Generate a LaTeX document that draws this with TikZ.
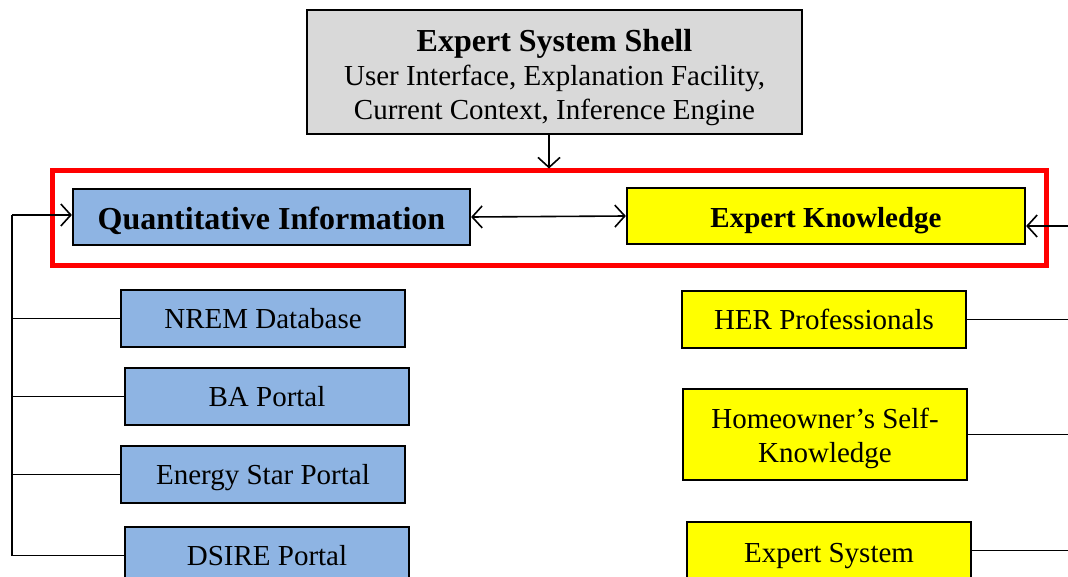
\documentclass[tikz,border=0pt]{standalone}
\usepackage{fontspec}
\setmainfont{Liberation Serif}
\usetikzlibrary{arrows.meta}
\definecolor{shellgray}{HTML}{D9D9D9}
\definecolor{quantblue}{HTML}{8EB4E3}
\definecolor{knowyellow}{HTML}{FFFF00}
\tikzset{
  box/.style={draw=black, line width=2.2pt, inner sep=0pt, align=center,
    font=\fontsize{29}{34}\selectfont},
  oneline/.style={text height=25pt, text depth=6pt},
  bluebox/.style={box, oneline, fill=quantblue, minimum width=284pt, minimum height=57pt},
  yellowbox/.style={box, fill=knowyellow, minimum width=284pt},
  link/.style={draw=black, line width=1.6pt},
  tip/.tip={Straight Barb[length=10pt, width=22pt, line width=1.6pt]},
  arr/.style={link, -tip},
  darr/.style={link, tip-tip}
}
\begin{document}
\begin{tikzpicture}[x=1pt, y=-1pt]
\useasboundingbox (0,0) rectangle (1068,577);
\clip (0,0) rectangle (1068,577);
\fill[white] (0,0) rectangle (1068,577);

% shell on top
\node[box, fill=shellgray, minimum width=495pt, minimum height=124pt] (shell) at (554.5,72)
  {\rule{0pt}{34pt}{\fontsize{32}{34}\selectfont\bfseries Expert System Shell}\\
   User Interface, Explanation Facility,\\
   Current Context, Inference Engine};

% knowledge sources group
\node[draw=red, line width=5pt, minimum width=994pt, minimum height=95pt, inner sep=0pt] (group) at (549,218.5) {};
\node[box, fill=quantblue, minimum width=397pt, minimum height=56pt,
      text height=30pt, text depth=5pt] (qi) at (271.5,217)
  {\fontsize{32}{34}\selectfont\bfseries Quantitative Information};
\node[box, fill=knowyellow, minimum width=398pt, minimum height=56pt,
      text height=29pt, text depth=6pt] (ek) at (826,216)
  {\fontsize{29}{34}\selectfont\bfseries Expert Knowledge};

% quantitative sources
\node[bluebox] (nrem) at (263,318.5) {NREM Database};
\node[bluebox] (ba) at (267,396.5) {BA Portal};
\node[bluebox] (estar) at (263,474.5) {Energy Star Portal};
\node[bluebox] (dsire) at (267,555.5) {DSIRE Portal};

% expert knowledge sources
\node[yellowbox, oneline, minimum height=57pt] (her) at (824,319.5) {HER Professionals};
\node[yellowbox, minimum height=91pt] (home) at (825,434.5)
  {\rule{0pt}{28pt}Homeowner’s Self-\\Knowledge};
\node[yellowbox, minimum height=57pt, text height=28pt, text depth=5pt] (exsys) at (829,550.5) {Expert System};

% buses
\coordinate (lbus) at (12,215);
\coordinate (rbus) at (1085,226);

% connectors
\draw[arr] (shell.south -| group.north) -- (group.north);
\draw[darr] (qi.east) -- (ek.west);

\draw[link] (dsire.west) -| (lbus);
\draw[arr] (lbus) -- (qi.west |- lbus);
\draw[link] (nrem.west) -- (nrem.west -| lbus);
\draw[link] (ba.west) -- (ba.west -| lbus);
\draw[link] (estar.west) -- (estar.west -| lbus);

\draw[arr] (rbus) -- (ek.east |- rbus);
\draw[link] (her.east) -- (her.east -| rbus);
\draw[link] (home.east) -- (home.east -| rbus);
\draw[link] (exsys.east) -- (exsys.east -| rbus);
\end{tikzpicture}
\end{document}
